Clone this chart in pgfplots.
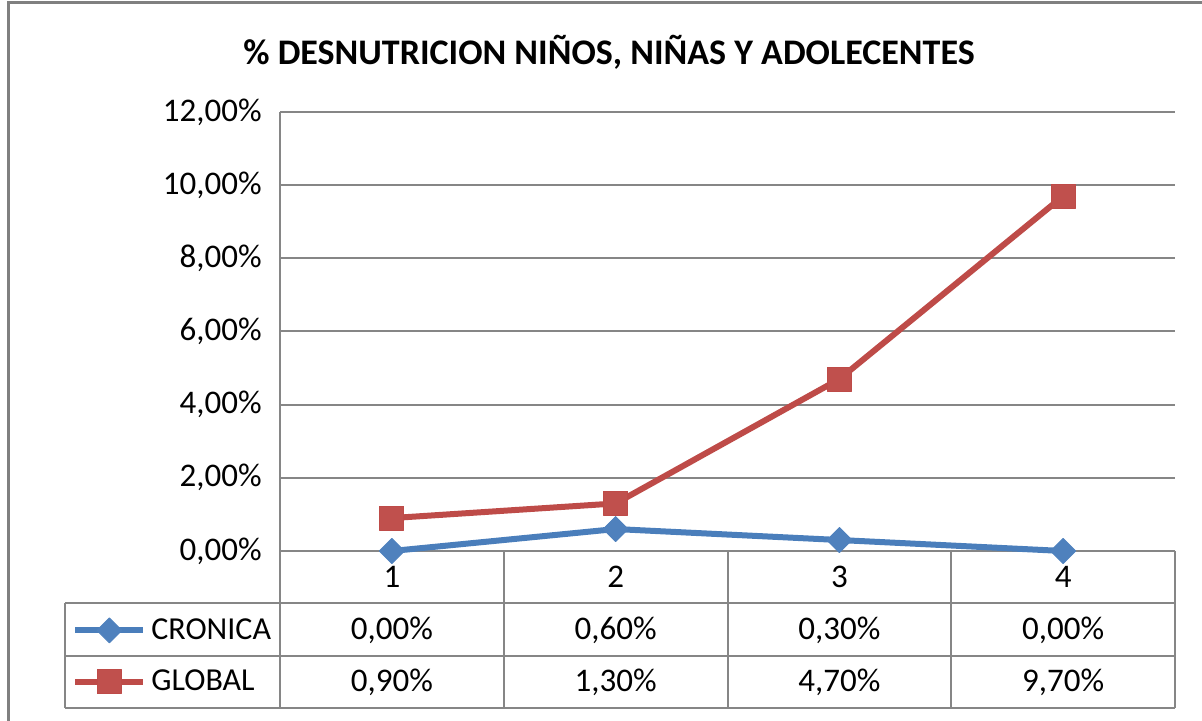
\documentclass[border=0pt]{standalone}
\usepackage{pgfplots}
\pgfplotsset{compat=1.18}
\usepackage{fontspec}
\setmainfont{Carlito}
\definecolor{GridGray}  {RGB}{134,134,134}
\definecolor{FrameGray} {RGB}{128,128,128}
\definecolor{XlBlue}    {RGB}{ 74,126,187}
\definecolor{XlBlueFill}{RGB}{ 79,129,189}
\definecolor{XlRed}     {RGB}{190, 75, 72}
\definecolor{XlRedFill} {RGB}{192, 80, 77}

\begin{document}
\begin{tikzpicture}[x=0.5pt,y=0.5pt]
\path[use as bounding box] (0,0) rectangle (1202,721);
\draw[FrameGray, line width=1.5pt] (8,0) -- (8,718) -- (1202,718);
\node[font=\bfseries\fontsize{18}{20}\selectfont] at (609,669)
  {\% DESNUTRICION NIÑOS, NIÑAS Y ADOLECENTES};

\begin{axis}[
    at={(140pt,85pt)}, anchor=south west,
    scale only axis,
    width=447.5pt, height=219.5pt,
    xmin=0.5, xmax=4.5,
    ymin=0, ymax=12,
    xtick={1,2,3,4},
    xticklabels={1,2,3,4},
    ytick={0,2,4,6,8,10,12},
    yticklabels={{0,00\%},{2,00\%},{4,00\%},{6,00\%},{8,00\%},{10,00\%},{12,00\%}},
    major tick length=0pt,
    axis line style={draw=none},
    ymajorgrids,
    major grid style={draw=GridGray, line width=1pt},
    tick label style={font=\fontsize{16.5}{18}\selectfont, text=black},
    yticklabel style={inner sep=0pt, xshift=-9pt},
    xticklabel style={anchor=center, inner sep=0pt, yshift=-13pt},
    clip=false,
    legend image code/.code={
        \draw[mark repeat=2, mark phase=2, #1]
        plot coordinates {(0pt,0pt) (17pt,0pt) (34pt,0pt)};},
    legend style={
        draw=none, fill=none,
        at={(axis description cs:-0.2324,-0.239)}, anchor=west,
        inner sep=0pt, row sep=13.5pt,
        font=\fontsize{16}{18}\selectfont,
        nodes={inner xsep=2.5pt, inner ysep=0pt},
    },
    legend cell align=left,
]
\addplot[XlBlue, line width=3pt, line join=round,
    mark=square*, mark size=4.4pt,
    mark options={rotate=45, fill=XlBlueFill, draw=XlBlueFill, line width=0.5pt}]
    coordinates {(1,0.0) (2,0.6) (3,0.3) (4,0.0)};
\addlegendentry{CRONICA}

\addplot[XlRed, line width=3pt, line join=round,
    mark=square*, mark size=6pt,
    mark options={fill=XlRedFill, draw=XlRed, line width=0.5pt}]
    coordinates {(1,0.9) (2,1.3) (3,4.7) (4,9.7)};
\addlegendentry{GLOBAL}
\end{axis}

% data table under the plot
\draw[GridGray, line width=1pt] (280,170) -- (280,609);
\draw[GridGray, line width=1pt]
    (65,118) -- (1175,118)
    (65,65) -- (1175,65)
    (65,13) -- (1175,13)
    (65,118) -- (65,13);
\foreach \x in {280,503.75,727.5,951.25,1175}
    \draw[GridGray, line width=1pt] (\x,170) -- (\x,13);

\begin{scope}[every node/.style={font=\fontsize{16.5}{18}\selectfont}]
\node at (391.9,91)  {0,00\%};
\node at (615.6,91)  {0,60\%};
\node at (839.4,91)  {0,30\%};
\node at (1063.1,91) {0,00\%};
\node at (391.9,39)  {0,90\%};
\node at (615.6,39)  {1,30\%};
\node at (839.4,39)  {4,70\%};
\node at (1063.1,39) {9,70\%};
\end{scope}
\end{tikzpicture}
\end{document}
